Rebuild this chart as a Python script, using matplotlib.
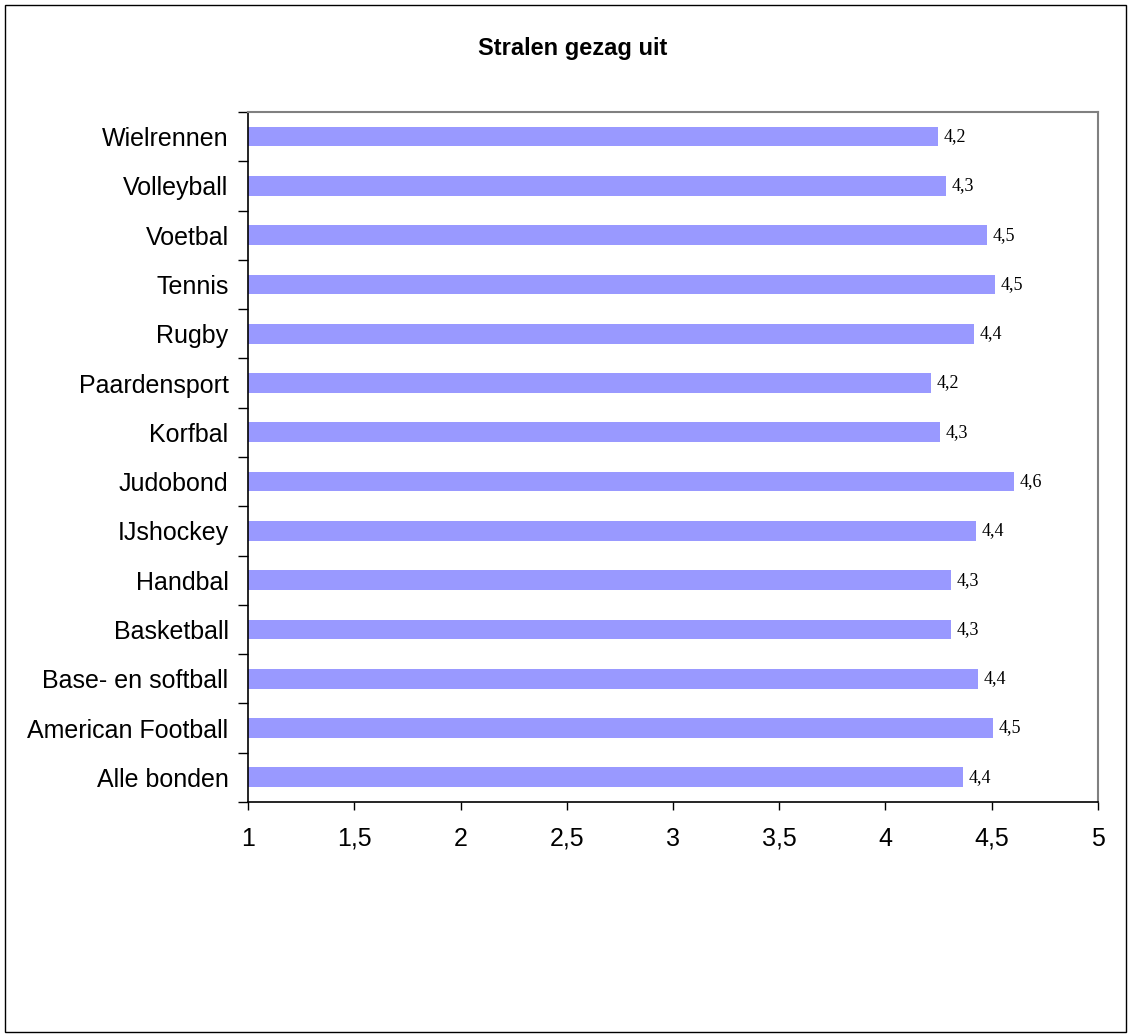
import matplotlib.pyplot as plt
from matplotlib.patches import Rectangle
from matplotlib.ticker import FixedLocator

# categories, bottom to top
sports = ["Alle bonden", "American Football", "Base- en softball", "Basketball",
          "Handbal", "IJshockey", "Judobond", "Korfbal", "Paardensport",
          "Rugby", "Tennis", "Voetbal", "Volleyball", "Wielrennen"]
scores = [4.365, 4.506, 4.435, 4.308, 4.308, 4.426, 4.605, 4.256, 4.214,
          4.416, 4.515, 4.478, 4.285, 4.247]
xticks = [1, 1.5, 2, 2.5, 3, 3.5, 4, 4.5, 5]

plt.rcParams['font.family'] = ['Liberation Sans', 'DejaVu Sans']

fig = plt.figure(figsize=(11.31, 10.36), dpi=100)
ax = fig.add_axes([0.2193, 0.2259, 0.7515, 0.666])

pos = list(range(len(sports)))
ax.barh(pos, [s - 1 for s in scores], left=1, height=0.4, color='#9999ff')

for p, s in zip(pos, scores):
    ax.text(s + 0.028, p, f"{s:.1f}".replace('.', ','), va='center', ha='left',
            fontsize=13, family='Liberation Serif')

ax.set_xlim(1, 5)
ax.set_ylim(-0.5, len(sports) - 0.5)
ax.set_xticks(xticks)
ax.set_xticklabels([f"{t:g}".replace('.', ',') for t in xticks], fontsize=18)
ax.tick_params(axis='x', length=6, width=1, pad=12, color='black')

ax.set_yticks(pos)
ax.set_yticklabels(sports, fontsize=18)
ax.yaxis.set_minor_locator(FixedLocator([p - 0.5 for p in range(len(sports) + 1)]))
ax.tick_params(axis='y', which='major', length=0, pad=14)
ax.tick_params(axis='y', which='minor', length=7, width=1, color='black')

for side in ['left', 'bottom']:
    ax.spines[side].set_color('black')
    ax.spines[side].set_linewidth(1.2)
for side in ['top', 'right']:
    ax.spines[side].set_color('#808080')
    ax.spines[side].set_linewidth(1.5)

fig.text(0.506, 0.953, "Stralen gezag uit", ha='center', va='center',
         fontsize=17, fontweight='bold')

fig.patches.append(Rectangle((0.004, 0.004), 0.992, 0.991, transform=fig.transFigure,
                             fill=False, edgecolor='black', linewidth=1))

fig.savefig("out.png", dpi=100)
